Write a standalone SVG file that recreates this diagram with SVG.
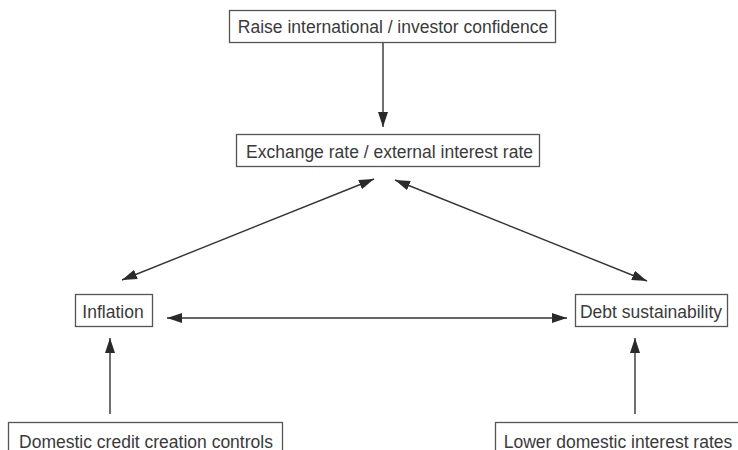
<svg xmlns="http://www.w3.org/2000/svg" width="738" height="450" viewBox="0 0 738 450">
<defs>
<style>
.box{fill:#fff;stroke:#555;stroke-width:1.3}
.lbl{font-family:"Liberation Sans",Arial,sans-serif;font-size:17.5px;fill:#3a3a3a;text-anchor:middle}
.con{stroke:#333;stroke-width:1.4;fill:none}
</style>
<marker id="ah" viewBox="0 0 15 10" refX="15" refY="5" markerWidth="15" markerHeight="10" markerUnits="userSpaceOnUse" orient="auto-start-reverse">
<path d="M0,0 L15,5 L0,10 Z" fill="#2a2a2a"/>
</marker>
</defs>
<rect width="738" height="450" fill="#fff"/>
<g id="connectors">
<line class="con" x1="383" y1="42" x2="383" y2="127" marker-end="url(#ah)"/>
<line class="con" x1="122" y1="280" x2="374" y2="179" marker-start="url(#ah)" marker-end="url(#ah)"/>
<line class="con" x1="395" y1="180" x2="647" y2="281" marker-start="url(#ah)" marker-end="url(#ah)"/>
<line class="con" x1="167" y1="318" x2="567" y2="318" marker-start="url(#ah)" marker-end="url(#ah)"/>
<line class="con" x1="110" y1="414" x2="110" y2="338" marker-end="url(#ah)"/>
<line class="con" x1="635" y1="414" x2="635" y2="338" marker-end="url(#ah)"/>
</g>
<g id="n-confidence">
<rect class="box" x="229.5" y="10.5" width="326" height="32"/>
<text class="lbl" x="393" y="33">Raise international / investor confidence</text>
</g>
<g id="n-exchange">
<rect class="box" x="236.5" y="134.5" width="303" height="32"/>
<text class="lbl" x="389.5" y="157.5">Exchange rate / external interest rate</text>
</g>
<g id="n-inflation">
<rect class="box" x="75.5" y="294.5" width="77" height="32"/>
<text class="lbl" x="113" y="317.5">Inflation</text>
</g>
<g id="n-debt">
<rect class="box" x="575.5" y="294.5" width="152" height="32"/>
<text class="lbl" x="651" y="317.5">Debt sustainability</text>
</g>
<g id="n-credit">
<rect class="box" x="8.5" y="422.5" width="274" height="40"/>
<text class="lbl" x="146" y="447.5">Domestic credit creation controls</text>
</g>
<g id="n-lower">
<rect class="box" x="495.5" y="422.5" width="260" height="40"/>
<text class="lbl" x="618" y="447.5">Lower domestic interest rates</text>
</g>
</svg>
